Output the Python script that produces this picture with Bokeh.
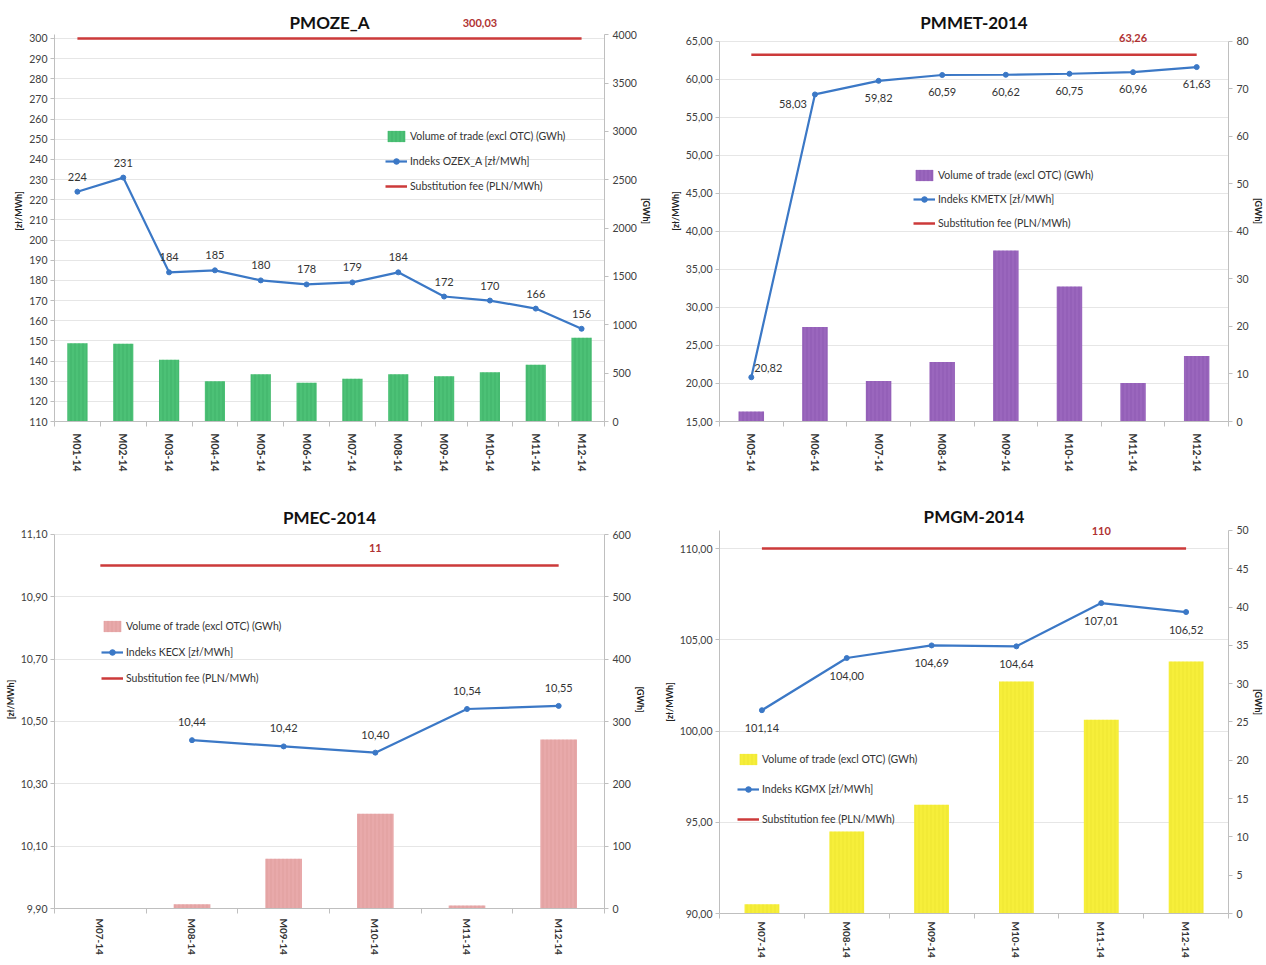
from bokeh.core.properties import value
from bokeh.embed import file_html
from bokeh.layouts import column, row
from bokeh.models import (ColumnDataSource, CustomJSTickFormatter, FixedTicker, Label,
                          LabelSet, Legend, LegendItem, LinearAxis, Range1d)
from bokeh.plotting import figure
from bokeh.resources import INLINE

FONT = "Lato"
BLUE = "#3b78c6"
RED = "#cc3a3a"
AXIS = "#bfbfbf"
GRID = "#e6e6e6"
TXT = "#404040"

# ---- PMOZE_A ----
oze_months = ["M01-14", "M02-14", "M03-14", "M04-14", "M05-14", "M06-14",
              "M07-14", "M08-14", "M09-14", "M10-14", "M11-14", "M12-14"]
oze_volume = [810, 803, 638, 417, 490, 400, 441, 490, 469, 510, 586, 866]
oze_index = [224, 231, 184, 185, 180, 178, 179, 184, 172, 170, 166, 156]
oze_fee = 300.03
oze_price_ticks = [110, 120, 130, 140, 150, 160, 170, 180, 190, 200, 210,
                   220, 230, 240, 250, 260, 270, 280, 290, 300]
oze_volume_ticks = [0, 500, 1000, 1500, 2000, 2500, 3000, 3500, 4000]

# ---- PMMET-2014 ----
met_months = ["M05-14", "M06-14", "M07-14", "M08-14", "M09-14", "M10-14", "M11-14", "M12-14"]
met_volume = [2.1, 19.9, 8.5, 12.5, 36.0, 28.4, 8.1, 13.8]
met_index = [20.82, 58.03, 59.82, 60.59, 60.62, 60.75, 60.96, 61.63]
met_fee = 63.26
met_price_ticks = [15, 20, 25, 30, 35, 40, 45, 50, 55, 60, 65]
met_volume_ticks = [0, 10, 20, 30, 40, 50, 60, 70, 80]

# ---- PMEC-2014 ----
ec_months = ["M07-14", "M08-14", "M09-14", "M10-14", "M11-14", "M12-14"]
ec_volume = [0, 7, 80, 152, 5, 271]
ec_index = [None, 10.44, 10.42, 10.40, 10.54, 10.55]
ec_fee = 11.00
ec_price_ticks = [9.90, 10.10, 10.30, 10.50, 10.70, 10.90, 11.10]
ec_volume_ticks = [0, 100, 200, 300, 400, 500, 600]

# ---- PMGM-2014 ----
gm_months = ["M07-14", "M08-14", "M09-14", "M10-14", "M11-14", "M12-14"]
gm_volume = [1.2, 10.7, 14.2, 30.3, 25.3, 32.9]
gm_index = [101.14, 104.00, 104.69, 104.64, 107.01, 106.52]
gm_fee = 110.00
gm_price_ticks = [90, 95, 100, 105, 110]
gm_volume_ticks = [0, 5, 10, 15, 20, 25, 30, 35, 40, 45, 50]

VOLUME_NAME = "Volume of trade (excl OTC) (GWh)"
FEE_NAME = "Substitution fee (PLN/MWh)"


def comma(v, d):
    return f"{v:.{d}f}".replace(".", ",")


def style_axis(ax):
    ax.axis_line_color = AXIS
    ax.major_tick_line_color = AXIS
    ax.major_tick_in = 0
    ax.major_tick_out = 4
    ax.minor_tick_line_color = None
    ax.major_label_text_font = FONT
    ax.major_label_text_font_size = "10.5px"
    ax.major_label_text_color = TXT
    ax.major_label_standoff = 3
    ax.axis_label_text_font = FONT
    ax.axis_label_text_font_size = "9px"
    ax.axis_label_text_font_style = "bold"
    ax.axis_label_text_color = "#222222"
    ax.axis_label_standoff = 2


def panel(cfg):
    months = cfg["months"]
    n = len(months)
    xs = list(range(n))
    b = cfg["borders"]
    # the plotting area reaches the top edge, so that the title and the fee
    # label can sit above the axes; the axis lines are bounded to their ticks
    p = figure(width=cfg["width"], height=cfg["height"], output_backend="svg",
               toolbar_location=None, x_range=Range1d(-0.5, n - 0.5),
               y_range=Range1d(cfg["y_bounds"][0], cfg["y_end"]),
               min_border_left=b[0], min_border_right=b[1],
               min_border_top=0, min_border_bottom=b[2],
               background_fill_color="white", border_fill_color="white",
               outline_line_color=None)
    p.extra_y_ranges = {"vol": Range1d(cfg["v_bounds"][0], cfg["v_end"])}

    # category axis: labels at centres, tick marks at the boundaries
    xa = p.xaxis[0]
    style_axis(xa)
    xa.ticker = FixedTicker(ticks=xs, minor_ticks=[i - 0.5 for i in range(n + 1)])
    xa.major_label_overrides = {i: m for i, m in enumerate(months)}
    xa.major_label_orientation = "vertical"
    xa.major_tick_line_color = None
    xa.minor_tick_line_color = AXIS
    xa.minor_tick_in = 0
    xa.minor_tick_out = 5
    xa.major_label_standoff = cfg["x_label_standoff"]
    xa.major_label_text_font_size = cfg["x_label_size"]
    xa.major_label_text_font_style = "bold"
    xa.major_label_text_color = "#333333"

    ya = p.yaxis[0]
    style_axis(ya)
    ya.bounds = cfg["y_bounds"]
    ya.ticker = FixedTicker(ticks=cfg["y_ticks"])
    ya.formatter = CustomJSTickFormatter(
        code=f"return tick.toFixed({cfg['y_dec']}).replace('.', ',')")
    ya.axis_label = "[zł/MWh]"

    ra = LinearAxis(y_range_name="vol", ticker=FixedTicker(ticks=cfg["v_ticks"]),
                    bounds=cfg["v_bounds"])
    style_axis(ra)
    ra.major_label_standoff = 4
    ra.axis_label = "[GWh]"
    ra.axis_label_standoff = 1
    p.add_layout(ra, "right")

    p.xgrid.visible = False
    p.ygrid.ticker = FixedTicker(ticks=cfg["y_ticks"])
    p.ygrid.grid_line_color = GRID

    bars = p.vbar(x=xs, top=cfg["volume"], bottom=0, width=cfg["bar_width"],
                  y_range_name="vol", fill_color=cfg["bar_color"], line_color=None,
                  hatch_pattern="vertical_line", hatch_color=cfg["hatch_color"],
                  hatch_scale=4, hatch_weight=1, hatch_alpha=0.55)

    fee_r = p.line(xs, [cfg["fee"]] * n, line_color=RED, line_width=2.5)

    ix = [x for x, v in zip(xs, cfg["index"]) if v is not None]
    iv = [v for v in cfg["index"] if v is not None]
    line_r = p.line(ix, iv, line_color=BLUE, line_width=2.2)
    dot_r = p.scatter(ix, iv, size=5, marker="circle", fill_color=BLUE, line_color=BLUE)

    offs = cfg["label_offsets"]
    src = ColumnDataSource(dict(x=ix, y=iv, text=[comma(v, cfg["label_dec"]) for v in iv],
                                dx=[o[0] for o in offs], dy=[o[1] for o in offs]))
    p.add_layout(LabelSet(x="x", y="y", text="text", x_offset="dx", y_offset="dy",
                          source=src, text_align="center", text_baseline="middle",
                          text_font=value(FONT), text_font_size="11px",
                          text_color="#333333"))

    fx, fdx, fdy = cfg["fee_label"]
    p.add_layout(Label(x=fx, y=cfg["fee"], x_offset=fdx, y_offset=fdy,
                       text=comma(cfg["fee"], cfg["fee_dec"]), text_align="center",
                       text_baseline="middle", text_font=FONT, text_font_size="11px",
                       text_font_style="bold", text_color="#b03232"))

    # chart title, centred over the plotting area
    p.add_layout(Label(x=(n - 1) / 2, y=cfg["y_end"], y_offset=-cfg["title_y"],
                       text=cfg["title"], text_align="center", text_baseline="middle",
                       text_font=FONT, text_font_size="17px", text_font_style="bold",
                       text_color="#111111"))

    legend = Legend(items=[LegendItem(label=VOLUME_NAME, renderers=[bars]),
                           LegendItem(label=cfg["index_name"], renderers=[line_r, dot_r]),
                           LegendItem(label=FEE_NAME, renderers=[fee_r])],
                    location=cfg["legend_xy"], orientation="vertical",
                    glyph_width=22, glyph_height=14, label_height=14, label_standoff=3,
                    spacing=cfg["legend_spacing"], padding=0, margin=0,
                    border_line_color=None, background_fill_alpha=0,
                    label_text_font=FONT, label_text_font_size="10.5px",
                    label_text_color="#333333")
    p.add_layout(legend)
    return p


p_oze = panel(dict(
    title="PMOZE_A", title_y=22, months=oze_months, volume=oze_volume, index=oze_index,
    fee=oze_fee, fee_dec=2, fee_label=(9, -10, 15), index_name="Indeks OZEX_A [zł/MWh]",
    bar_color="#4cc176", hatch_color="#35a85c", bar_width=0.44,
    y_bounds=(110, 302), y_end=318.85, y_ticks=oze_price_ticks, y_dec=0,
    v_bounds=(0, 4000), v_end=4354.8, v_ticks=oze_volume_ticks,
    width=660, height=490, borders=(54, 56, 69), x_label_standoff=7, x_label_size="10.5px",
    label_dec=0, label_offsets=[(0, 15)] * 12,
    legend_xy=(331, 228), legend_spacing=11))

p_met = panel(dict(
    title="PMMET-2014", title_y=22, months=met_months, volume=met_volume, index=met_index,
    fee=met_fee, fee_dec=2, fee_label=(6, 0, 17), index_name="Indeks KMETX [zł/MWh]",
    bar_color="#9a66bd", hatch_color="#8450aa", bar_width=0.4,
    y_bounds=(15, 65), y_end=70.39, y_ticks=met_price_ticks, y_dec=2,
    v_bounds=(0, 80), v_end=88.63, v_ticks=met_volume_ticks,
    width=606, height=490, borders=(59, 35, 69), x_label_standoff=7, x_label_size="10.5px",
    label_dec=2, label_offsets=[(17, 9), (-22, -10)] + [(0, -17)] * 6,
    legend_xy=(194, 191), legend_spacing=10))

p_ec = panel(dict(
    title="PMEC-2014", title_y=27, months=ec_months, volume=ec_volume, index=ec_index,
    fee=ec_fee, fee_dec=0, fee_label=(3, 0, 18), index_name="Indeks KECX [zł/MWh]",
    bar_color="#e8a9aa", hatch_color="#d99394", bar_width=0.4,
    y_bounds=(9.9, 11.1), y_end=11.241, y_ticks=ec_price_ticks, y_dec=2,
    v_bounds=(0, 600), v_end=670.6, v_ticks=ec_volume_ticks,
    width=660, height=475, borders=(53, 55, 57), x_label_standoff=5, x_label_size="10px",
    label_dec=2, label_offsets=[(0, 18)] * 5,
    legend_xy=(47, 223), legend_spacing=12))

p_gm = panel(dict(
    title="PMGM-2014", title_y=26, months=gm_months, volume=gm_volume, index=gm_index,
    fee=gm_fee, fee_dec=0, fee_label=(4, 0, 18), index_name="Indeks KGMX [zł/MWh]",
    bar_color="#f6ee3a", hatch_color="#e9df2a", bar_width=0.41,
    y_bounds=(90, 111), y_end=113.18, y_ticks=gm_price_ticks, y_dec=2,
    v_bounds=(0, 50), v_end=55.22, v_ticks=gm_volume_ticks,
    width=606, height=475, borders=(59, 37, 52), x_label_standoff=3, x_label_size="10px",
    label_dec=2, label_offsets=[(0, -18)] * 6,
    legend_xy=(18, 87), legend_spacing=16))

layout = row(column(p_oze, p_ec), column(p_met, p_gm))

with open("out.html", "w") as f:
    f.write(file_html(layout, INLINE))
